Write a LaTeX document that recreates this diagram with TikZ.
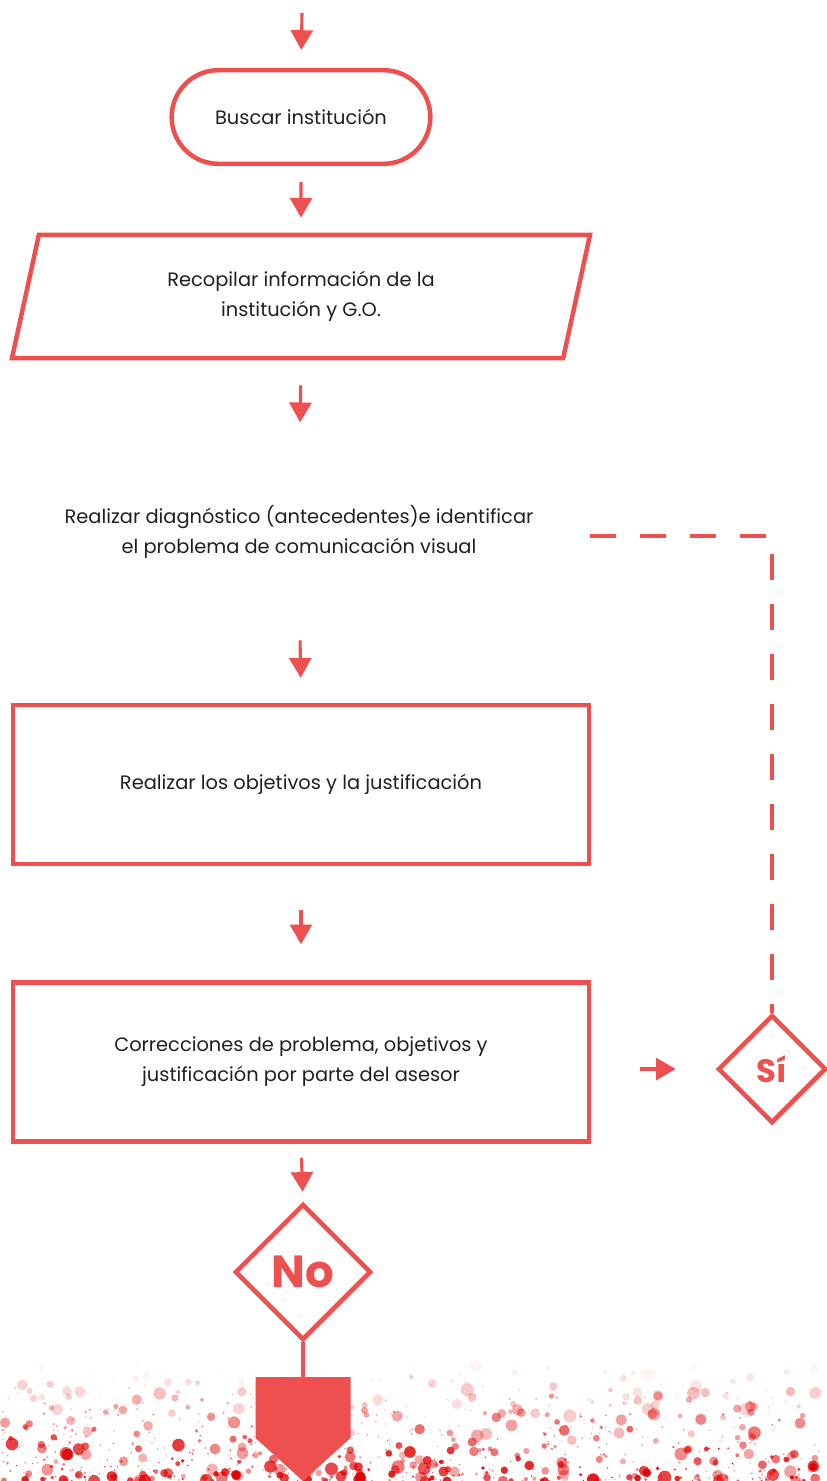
\documentclass[tikz,border=0pt]{standalone}
\usepackage{fontspec}
\setmainfont{Poppins}
\usetikzlibrary{
  arrows.meta,
  shapes.geometric,
  shapes.misc
}
\definecolor{rojo}{HTML}{EE4F4F}
\definecolor{tinta}{HTML}{231F20}
\colorlet{mancha}{red!88!black}
\tikzset{
  every node/.style={font=\fontsize{13.8}{21.5}\selectfont,text=tinta,align=center},
  flecha/.style={draw=rojo,line width=2.2pt,-{Triangle[width=15.6pt,length=14pt]}},
  borde/.style={draw=rojo,line width=3.2pt},
  caja/.style={borde,rectangle,minimum width=14.4cm,minimum height=3.975cm},
  rombo/.style={borde,diamond,aspect=1,inner sep=0pt,text=rojo,font=\bfseries},
  discontinua/.style={draw=rojo,line width=3.4pt,dash pattern=on 0.65cm off 0.6cm},
}

\begin{document}
\begin{tikzpicture}[x=0.025cm,y=-0.025cm]
\useasboundingbox (0,0) rectangle (827,1481);
% manchas del fondo
\pgfmathsetseed{1481}
\foreach \i in {1,...,950}{
  \pgfmathsetmacro\sx{rnd*827}
  \pgfmathsetmacro\sy{1481-120*rnd^1.6}
  \pgfmathsetmacro\sr{0.7+6*rnd^4}
  \pgfmathsetmacro\so{min(1,(\sy-1362)/100)*(0.3+0.65*rnd)}
  \fill[mancha,opacity=\so] (\sx,\sy) circle[radius=\sr];
}
% nodos
\coordinate (inicio) at (302,13);
\node[borde,rounded rectangle,minimum width=6.7cm,minimum height=2.34cm] (buscar) at (301,117) {Buscar institución};
\node[borde,trapezium,trapezium left angle=76.7,trapezium right angle=103.3,
  trapezium stretches=true,minimum width=14.45cm,minimum height=3.08cm] (recopilar) at (301,296.5)
  {Recopilar información de la\\institución y G.O.};
\node[inner sep=0pt,minimum height=1.625cm] (diagnostico) at (299,532)
  {Realizar diagnóstico (antecedentes)e identificar\\el problema de comunicación visual};
\coordinate (regreso) at (590,536);
\node[caja] (objetivos) at (301,784.5) {Realizar los objetivos y la justificación};
\node[caja] (correcciones) at (301,1062)
  {Correcciones de problema, objetivos y\\justificación por parte del asesor};
\node[rombo,minimum size=2.7cm,font=\fontsize{23}{23}\bfseries] (si) at (772,1069) {Sí};
\node[rombo,minimum size=3.4cm,font=\fontsize{32}{32}\bfseries] (no) at (303,1272) {No};
\coordinate (fin) at (303,1377);
% conectores
\draw[flecha,shorten >=0.45cm] (inicio) -- (buscar.north);
\draw[flecha,shorten <=0.4cm,shorten >=0.375cm] (buscar.south) -- (recopilar.north);
\draw[flecha,shorten <=0.625cm,shorten >=1.925cm] (recopilar.south) -- (diagnostico.north);
\draw[flecha,shorten <=1.89cm,shorten >=0.625cm] (diagnostico.south) -- (objetivos.north);
\draw[flecha,shorten <=1.1cm,shorten >=0.9cm] (objetivos.south) -- (correcciones.north);
\draw[flecha,shorten <=0.35cm,shorten >=0.25cm] (correcciones.south) -- (no.north);
\draw[flecha,shorten <=1.225cm,shorten >=1cm] (si.west -| correcciones.east) -- (si.west);
\draw[discontinua] (regreso) -| (si.north);
\draw[borde] (no.south) -- (fin);
\fill[rojo] (fin) ++(-47.5,0) -- ++(95,0) -- ++(0,61) -- ++(-47.5,43) -- ++(-47.5,-43) -- cycle;
\end{tikzpicture}
\end{document}
